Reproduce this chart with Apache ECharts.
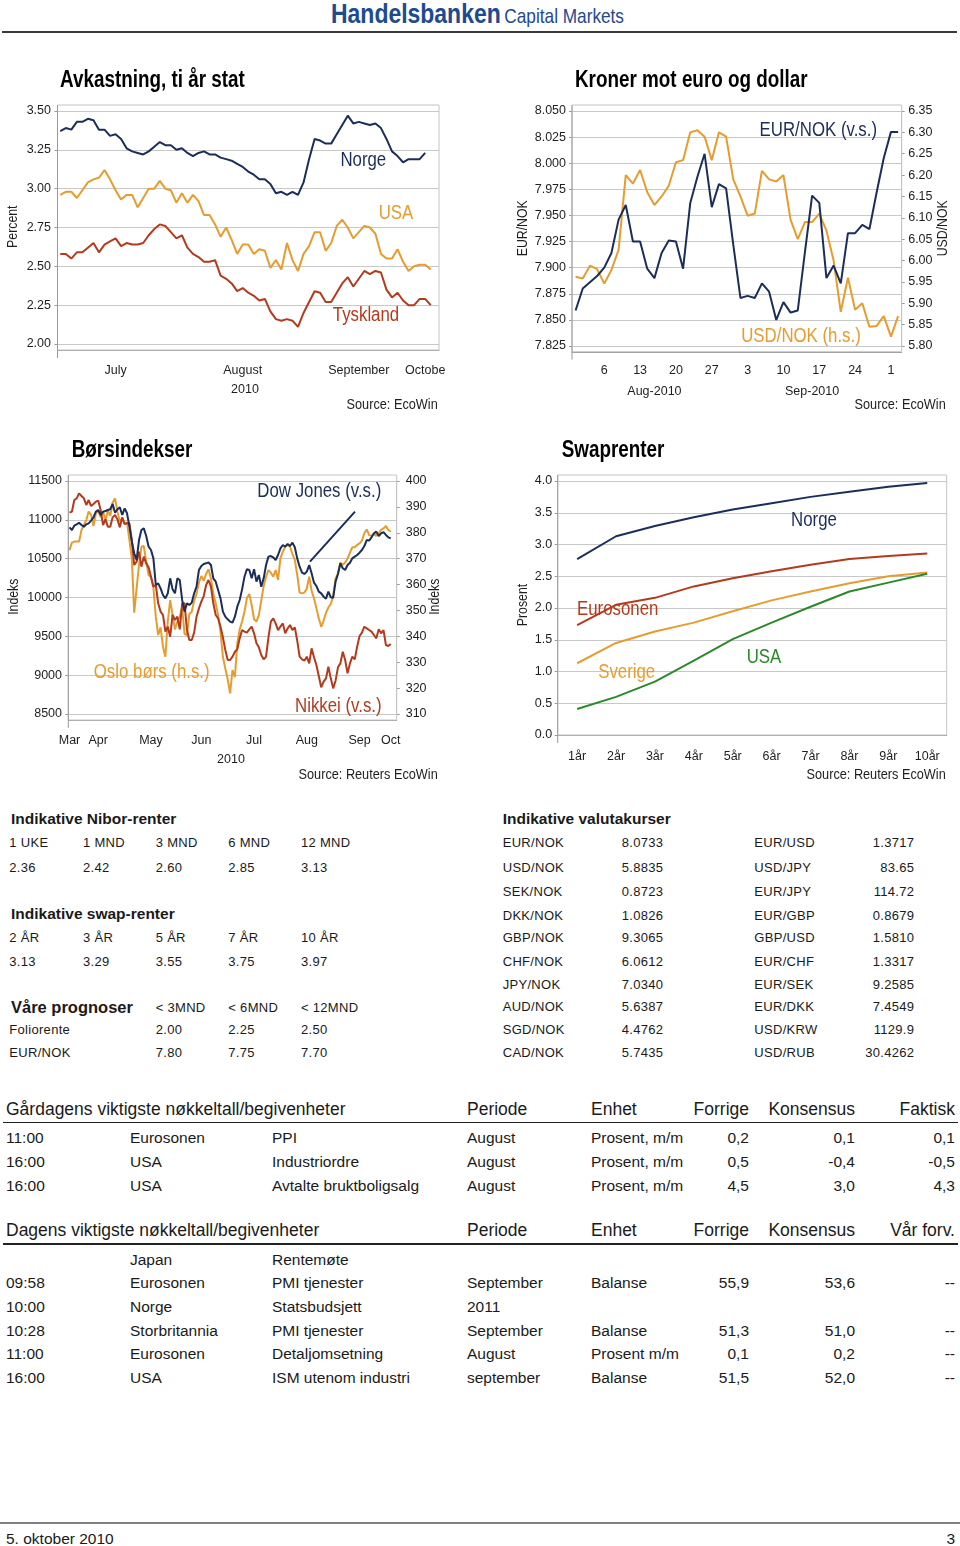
<!DOCTYPE html>
<html><head><meta charset="utf-8">
<script src="https://cdn.jsdelivr.net/npm/echarts@6/dist/echarts.min.js"></script>
<style>
html,body{margin:0;padding:0;background:#fff}
body{width:960px;height:1546px;position:relative;overflow:hidden;font-family:"Liberation Sans",Arial,sans-serif;color:#1a1a1a}
.t{position:absolute;white-space:nowrap;line-height:1.15;color:#1a1a1a}
.ch{position:absolute;width:450px;height:370px}
.hr{position:absolute;height:2px}
</style></head><body>
<div class="t" style="left:331px;top:-2px;line-height:28px;color:#1d4a91;transform:scaleX(0.82);transform-origin:0 0"><span style="font:bold 28px 'Liberation Sans',Arial,sans-serif">Handelsbanken</span> <span style="font:21px 'Liberation Sans',Arial,sans-serif">Capital Markets</span></div>
<div class="hr" style="left:2px;top:31px;width:955px;background:#3a3a3a"></div>
<div id="c1" class="ch" style="left:0;top:60px"></div>
<div id="c2" class="ch" style="left:510px;top:60px"></div>
<div id="c3" class="ch" style="left:0;top:430px"></div>
<div id="c4" class="ch" style="left:510px;top:430px"></div>
<div class="hr" style="left:0;top:1522px;width:960px;background:#808080"></div>
<script>
// ---------------- DATA ----------------
// Chart 1: Avkastning, ti år stat (business days 1 Jul - 5 Oct 2010)
const c1Norge = [3.37,3.39,3.38,3.43,3.43,3.45,3.44,3.38,3.38,3.34,3.35,3.32,3.26,3.24,3.23,3.22,3.24,3.27,3.30,3.28,3.28,3.25,3.26,3.23,3.21,3.23,3.24,3.22,3.22,3.20,3.19,3.18,3.16,3.14,3.11,3.09,3.06,3.06,3.03,2.97,2.98,2.96,2.98,2.96,3.04,3.19,3.32,3.31,3.29,3.29,3.35,3.41,3.47,3.42,3.43,3.42,3.41,3.42,3.39,3.32,3.24,3.21,3.17,3.19,3.19,3.19,3.23];
const c1USA = [2.96,2.98,2.98,2.94,2.99,3.04,3.06,3.07,3.12,3.06,2.99,2.93,2.96,2.96,2.88,2.94,3.00,3.00,3.05,3.00,2.99,2.91,2.97,2.91,2.96,2.92,2.83,2.83,2.77,2.69,2.75,2.67,2.58,2.64,2.64,2.58,2.61,2.60,2.49,2.54,2.48,2.65,2.54,2.47,2.58,2.63,2.72,2.72,2.60,2.65,2.76,2.80,2.75,2.68,2.72,2.76,2.75,2.71,2.58,2.55,2.55,2.61,2.53,2.47,2.50,2.51,2.51,2.48];
const c1Tyskland = [2.58,2.58,2.55,2.59,2.59,2.62,2.65,2.59,2.64,2.66,2.68,2.63,2.65,2.64,2.64,2.65,2.70,2.74,2.77,2.76,2.72,2.68,2.70,2.62,2.58,2.56,2.53,2.53,2.54,2.44,2.42,2.39,2.34,2.36,2.33,2.31,2.28,2.29,2.21,2.16,2.15,2.16,2.15,2.11,2.20,2.27,2.34,2.33,2.27,2.27,2.33,2.39,2.43,2.37,2.42,2.47,2.45,2.47,2.46,2.35,2.30,2.33,2.28,2.25,2.25,2.29,2.29,2.25];
const c1LabelIdx = [10,33,54,66];
const c1LabelTxt = ['July','August','September','Octobe'];

// Chart 2: Kroner mot euro og dollar (business days 2 Aug - 4 Oct 2010)
const c2EurNok = [7.859,7.880,7.886,7.892,7.900,7.914,7.946,7.960,7.925,7.925,7.899,7.890,7.914,7.926,7.925,7.899,7.962,7.987,8.009,7.958,7.980,7.976,7.922,7.871,7.873,7.871,7.885,7.877,7.850,7.867,7.857,7.859,7.915,7.969,7.962,7.890,7.902,7.885,7.933,7.933,7.941,7.937,7.972,8.005,8.030,8.030];
const c2UsdNok = [5.962,5.958,5.988,5.980,5.946,5.978,6.025,6.200,6.180,6.212,6.160,6.130,6.150,6.175,6.230,6.235,6.300,6.305,6.290,6.235,6.300,6.290,6.190,6.150,6.105,6.110,6.210,6.190,6.185,6.200,6.095,6.050,6.090,6.090,6.110,6.070,6.000,5.880,5.960,5.885,5.900,5.845,5.847,5.870,5.822,5.870];
const c2DayIdx = [4,9,14,19,24,29,34,39,44];
const c2DayTxt = ['6','13','20','27','3','10','17','24','1'];
const c2MonthIdx = [11,33];
const c2MonthTxt = ['Aug-2010','Sep-2010'];

// Chart 3: Børsindekser (business days 30 Mar - 6 Oct 2010)
const c3Dow = [10903,10869,10925,10942,10963,10933,10912,10942,10955,10989,11032,11105,11127,11062,11105,11114,11127,11136,11204,11092,11136,11161,11062,11148,11084,10912,10719,10569,10483,10740,10869,10890,10792,10654,10612,10504,10161,10182,10118,10032,9989,10054,10247,10105,10054,10247,10225,9968,9818,9925,9903,9934,10054,10139,10354,10406,10431,10440,10453,10418,10247,10204,10097,9989,9818,9753,9719,9689,9676,9753,9882,9968,10105,10268,10363,10354,10247,10363,10204,10290,10139,10247,10418,10526,10534,10517,10483,10547,10633,10676,10654,10689,10663,10706,10646,10504,10397,10320,10303,10333,10418,10311,10191,10148,10075,10054,10011,9985,10075,10002,9998,10204,10303,10440,10376,10354,10418,10448,10504,10526,10547,10577,10612,10663,10740,10732,10775,10826,10848,10792,10826,10843,10805,10775,10760];
const c3Nikkei = [11092,11105,11255,11277,11341,11307,11277,11191,11255,11178,11204,11234,11247,11127,10933,11006,10912,10912,11032,11062,11006,10903,11032,10946,10955,10955,10740,10418,10461,10590,10397,10526,10440,10388,10268,10139,10161,9925,9818,9775,9560,9624,9496,9775,9710,9753,9590,9925,9925,9581,9453,9453,9547,9753,9860,9946,10019,10161,10225,10139,9925,9775,9732,9624,9487,9324,9195,9195,9238,9302,9333,9474,9581,9560,9547,9590,9624,9539,9410,9358,9260,9204,9238,9487,9689,9732,9667,9581,9624,9667,9539,9603,9646,9581,9616,9444,9238,9204,9187,9238,9152,9345,9230,9131,8989,8843,8916,8959,9109,8959,8830,8929,9101,9152,9302,9195,9024,9152,9238,9204,9367,9504,9547,9624,9603,9581,9560,9517,9474,9590,9539,9581,9388,9375,9401];
const c3Oslo = [373.3,376.2,376.6,376.6,376.6,381.1,383.0,384.9,388.2,386.9,382.6,387.5,388.5,386.0,388.2,384.7,388.5,386.5,391.6,393.3,388.2,384.3,385.6,383.4,383.9,377.2,370.1,349.1,358.5,367.6,374.6,374.9,368.8,363.7,362.8,358.9,347.6,340.5,343.5,336.0,332.1,345.7,354.0,348.2,342.7,345.7,347.6,351.2,340.9,340.5,348.6,349.5,353.8,356.4,360.7,363.3,361.5,364.1,365.9,362.4,356.6,352.7,348.2,341.8,332.1,327.6,323.4,318.0,327.0,324.2,337.3,342.7,345.7,349.5,354.7,356.4,352.1,346.6,345.7,348.2,353.8,359.4,363.0,365.6,364.6,363.0,365.6,361.8,370.1,372.7,374.6,375.3,374.6,371.8,369.5,363.7,356.9,356.6,356.9,358.5,363.0,357.6,354.7,350.8,347.0,343.7,346.0,349.1,351.2,352.5,355.6,362.4,364.3,368.5,367.6,368.5,370.1,372.3,374.4,374.4,375.3,375.9,377.0,379.8,381.3,379.1,378.8,379.5,378.8,379.8,381.1,381.7,382.6,381.1,380.4];
const c3LabelIdx = [0,12,34,55,77,99,121,134];
const c3LabelTxt = ['Mar','Apr','May','Jun','Jul','Aug','Sep','Oct'];

// Chart 4: Swaprenter
const c4Cats = ['1år','2år','3år','4år','5år','6år','7år','8år','9år','10år'];
const c4Norge = [2.77,3.13,3.29,3.43,3.55,3.65,3.75,3.83,3.91,3.97];
const c4Euro = [1.73,2.05,2.16,2.34,2.47,2.58,2.68,2.77,2.82,2.86];
const c4Sverige = [1.13,1.45,1.63,1.77,1.95,2.12,2.26,2.39,2.50,2.56];
const c4USA = [0.41,0.60,0.84,1.17,1.51,1.77,2.02,2.26,2.40,2.54];

// Tables
const niborHeads = ['1 UKE','1 MND','3 MND','6 MND','12 MND'];
const niborValues = ['2.36','2.42','2.60','2.85','3.13'];
const swapHeads = ['2 ÅR','3 ÅR','5 ÅR','7 ÅR','10 ÅR'];
const swapValues = ['3.13','3.29','3.55','3.75','3.97'];
const prognoseHeads = ['< 3MND','< 6MND','< 12MND'];
const prognoseRows = [['Foliorente','2.00','2.25','2.50'],['EUR/NOK','7.80','7.75','7.70']];
const valutaLeft = [['EUR/NOK','8.0733'],['USD/NOK','5.8835'],['SEK/NOK','0.8723'],['DKK/NOK','1.0826'],['GBP/NOK','9.3065'],['CHF/NOK','6.0612'],['JPY/NOK','7.0340'],['AUD/NOK','5.6387'],['SGD/NOK','4.4762'],['CAD/NOK','5.7435']];
const valutaRight = [['EUR/USD','1.3717'],['USD/JPY','83.65'],['EUR/JPY','114.72'],['EUR/GBP','0.8679'],['GBP/USD','1.5810'],['EUR/CHF','1.3317'],['EUR/SEK','9.2585'],['EUR/DKK','7.4549'],['USD/KRW','1129.9'],['USD/RUB','30.4262']];
const evHeadY = ['Gårdagens viktigste nøkkeltall/begivenheter','Periode','Enhet','Forrige','Konsensus','Faktisk'];
const evRowsY = [
 ['11:00','Eurosonen','PPI','August','Prosent, m/m','0,2','0,1','0,1'],
 ['16:00','USA','Industriordre','August','Prosent, m/m','0,5','-0,4','-0,5'],
 ['16:00','USA','Avtalte bruktboligsalg','August','Prosent, m/m','4,5','3,0','4,3']];
const evHeadT = ['Dagens viktigste nøkkeltall/begivenheter','Periode','Enhet','Forrige','Konsensus','Vår forv.'];
const evRowsT = [
 ['','Japan','Rentemøte','','','','',''],
 ['09:58','Eurosonen','PMI tjenester','September','Balanse','55,9','53,6','--'],
 ['10:00','Norge','Statsbudsjett','2011','','','',''],
 ['10:28','Storbritannia','PMI tjenester','September','Balanse','51,3','51,0','--'],
 ['11:00','Eurosonen','Detaljomsetning','August','Prosent m/m','0,1','0,2','--'],
 ['16:00','USA','ISM utenom industri','september','Balanse','51,5','52,0','--']];

// ---------------- HELPERS ----------------
function bizDays(start, end){
  const out=[]; const d=new Date(start+'T00:00:00Z'); const e=new Date(end+'T00:00:00Z');
  while(d<=e){const w=d.getUTCDay(); if(w!==0&&w!==6) out.push(d.toISOString().slice(0,10)); d.setUTCDate(d.getUTCDate()+1);}
  return out;
}
function monthStart(dates,i){return i===0 || dates[i].slice(5,7)!==dates[i-1].slice(5,7);}
const c1Dates = bizDays('2010-07-01','2010-10-05');
const c2Dates = bizDays('2010-08-02','2010-10-04');
const c3Dates = bizDays('2010-03-30','2010-10-06');

const FN = "'Liberation Sans',Arial,sans-serif";
const NAVY='#1b2d5a', ORANGE='#e69c2e', RED='#b43a1c', GREEN='#2a8a2a';
const GRID='#c8c8c8', AXIS='#9a9a9a', FRAME='#c4c4c4', TXT='#1e1e1e';
const NARROW = 0.82;

function gtext(x,y,text,font,fill,align,rot,sx){
  align = align||'left';
  return {type:'text', x:x, y:y, rotation:rot||0, scaleX:(sx===undefined?NARROW:sx), z:100,
    style:{text:text, font:font, fill:fill, align:align, verticalAlign:'middle', textAlign:align, textVerticalAlign:'middle'}};
}
function frame(x,y,w,h){
  return [
    {type:'rect', z:1, shape:{x:x,y:y,width:w,height:h}, style:{fill:'none', stroke:FRAME, lineWidth:1}},
    {type:'line', z:2, shape:{x1:x,y1:y,x2:x,y2:y+h+8}, style:{stroke:AXIS, lineWidth:1}}
  ];
}
const lab14 = {fontFamily:FN, fontSize:12.5, color:TXT};
const yTick = {show:true, length:3, lineStyle:{color:AXIS}};
function line(data, color, yi){
  return {type:'line', data:data, yAxisIndex:yi||0, showSymbol:false, symbol:'none', z:5,
    lineStyle:{color:color, width:2}, itemStyle:{color:color}, emphasis:{disabled:true}};
}

// ---------------- CHART 1 ----------------
echarts.init(document.getElementById('c1')).setOption({
  animation:false,
  grid:{left:57.5, top:51, width:381.5, height:233},
  xAxis:{type:'category', data:c1Dates, boundaryGap:true, offset:6,
    axisLine:{lineStyle:{color:AXIS}},
    axisTick:{interval:(i)=>monthStart(c1Dates,i), length:6, lineStyle:{color:AXIS}},
    axisLabel:Object.assign({interval:(i)=>c1LabelIdx.includes(i), formatter:(v,i)=>c1LabelTxt[c1LabelIdx.indexOf(i)]||'', margin:14.4}, lab14)},
  yAxis:{type:'value', min:2, max:3.5, interval:0.25,
    axisLine:{show:false}, axisTick:yTick,
    axisLabel:Object.assign({formatter:(v)=>v.toFixed(2), margin:6.5}, lab14),
    splitLine:{lineStyle:{color:GRID}}},
  series:[line(c1Norge,NAVY), line(c1USA,ORANGE), line(c1Tyskland,RED)],
  graphic:[].concat(frame(57.5,45,381.5,245),[
    gtext(60,20.7,'Avkastning, ti år stat','bold 23px '+FN,'#000'),
    gtext(13.3,166.7,'Percent','15px '+FN,TXT,'center',Math.PI/2),
    gtext(363.3,100,'Norge','20.5px '+FN,NAVY,'center'),
    gtext(396,153.3,'USA','20.5px '+FN,ORANGE,'center'),
    gtext(366,255,'Tyskland','20.5px '+FN,RED,'center'),
    gtext(245,330,'2010','12.5px '+FN,TXT,'center',0,1),
    gtext(437.7,344.3,'Source: EcoWin','15.5px '+FN,TXT,'right')
  ])
});

// ---------------- CHART 2 ----------------
echarts.init(document.getElementById('c2')).setOption({
  animation:false,
  grid:{left:62, top:51, width:329.7, height:235},
  xAxis:[
    {type:'category', data:c2Dates, boundaryGap:true, offset:6, position:'bottom',
     axisLine:{lineStyle:{color:AXIS}},
     axisTick:{interval:(i)=>c2DayIdx.includes(i), alignWithLabel:true, length:5, lineStyle:{color:AXIS}},
     axisLabel:Object.assign({interval:(i)=>c2DayIdx.includes(i), formatter:(v,i)=>c2DayTxt[c2DayIdx.indexOf(i)]||'', margin:11.7}, lab14)},
    {type:'category', data:c2Dates, boundaryGap:true, offset:6, position:'bottom',
     axisLine:{show:false},
     axisTick:{interval:(i)=>monthStart(c2Dates,i), length:9, lineStyle:{color:AXIS}},
     axisLabel:Object.assign({interval:(i)=>c2MonthIdx.includes(i), formatter:(v,i)=>c2MonthTxt[c2MonthIdx.indexOf(i)]||'', margin:33.4}, lab14)}
  ],
  yAxis:[
    {type:'value', min:7.825, max:8.05, interval:0.025, position:'left',
     axisLine:{show:false}, axisTick:yTick,
     axisLabel:Object.assign({formatter:(v)=>v.toFixed(3), margin:6}, lab14),
     splitLine:{lineStyle:{color:GRID}}},
    {type:'value', min:5.8, max:6.35, interval:0.05, position:'right',
     axisLine:{show:true, lineStyle:{color:FRAME}}, axisTick:yTick,
     axisLabel:Object.assign({formatter:(v)=>v.toFixed(2), margin:6.5}, lab14),
     splitLine:{show:false}}
  ],
  series:[line(c2UsdNok,ORANGE,1), line(c2EurNok,NAVY,0)],
  graphic:[].concat(frame(62,45,329.7,246.7),[
    gtext(65,20.7,'Kroner mot euro og dollar','bold 23px '+FN,'#000'),
    gtext(13.3,168.3,'EUR/NOK','15px '+FN,TXT,'center',Math.PI/2),
    gtext(432.7,168.3,'USD/NOK','15px '+FN,TXT,'center',Math.PI/2),
    gtext(308.3,70,'EUR/NOK (v.s.)','20.5px '+FN,NAVY,'center'),
    gtext(291,276,'USD/NOK (h.s.)','20.5px '+FN,ORANGE,'center'),
    gtext(435.7,345,'Source: EcoWin','15.5px '+FN,TXT,'right')
  ])
});

// ---------------- CHART 3 ----------------
echarts.init(document.getElementById('c3')).setOption({
  animation:false,
  grid:{left:68.3, top:51, width:328.4, height:233},
  xAxis:{type:'category', data:c3Dates, boundaryGap:true, offset:6,
    axisLine:{lineStyle:{color:AXIS}},
    axisTick:{interval:(i)=>monthStart(c3Dates,i), length:6, lineStyle:{color:AXIS}},
    axisLabel:Object.assign({interval:(i)=>c3LabelIdx.includes(i), formatter:(v,i)=>c3LabelTxt[c3LabelIdx.indexOf(i)]||'', margin:14.4}, lab14)},
  yAxis:[
    {type:'value', min:8500, max:11500, interval:500, position:'left',
     axisLine:{show:false}, axisTick:yTick,
     axisLabel:Object.assign({formatter:(v)=>String(v), margin:6.3}, lab14),
     splitLine:{lineStyle:{color:GRID}}},
    {type:'value', min:310, max:400, interval:10, position:'right',
     axisLine:{show:true, lineStyle:{color:FRAME}}, axisTick:yTick,
     axisLabel:Object.assign({formatter:(v)=>String(v), margin:9}, lab14),
     splitLine:{show:false}}
  ],
  series:[line(c3Oslo,ORANGE,1), line(c3Nikkei,RED,0), line(c3Dow,NAVY,0)],
  graphic:[].concat(frame(68.3,45,328.4,245),[
    gtext(71.7,20.7,'Børsindekser','bold 23px '+FN,'#000'),
    gtext(14,166.7,'Indeks','15px '+FN,TXT,'center',Math.PI/2),
    gtext(435,166.7,'Indeks','15px '+FN,TXT,'center',Math.PI/2),
    gtext(319.3,61,'Dow Jones (v.s.)','20.5px '+FN,NAVY,'center'),
    gtext(151.7,242.7,'Oslo børs (h.s.)','20.5px '+FN,ORANGE,'center'),
    gtext(338.3,276.7,'Nikkei (v.s.)','20.5px '+FN,RED,'center'),
    {type:'line', z:100, shape:{x1:355,y1:81.7,x2:310,y2:131.7}, style:{stroke:NAVY, lineWidth:2}},
    gtext(231,330,'2010','12.5px '+FN,TXT,'center',0,1),
    gtext(437.7,345,'Source: Reuters EcoWin','15.5px '+FN,TXT,'right')
  ])
});

// ---------------- CHART 4 ----------------
echarts.init(document.getElementById('c4')).setOption({
  animation:false,
  grid:{left:47.7, top:51, width:389, height:254},
  xAxis:{type:'category', data:c4Cats, boundaryGap:true,
    axisLine:{lineStyle:{color:AXIS}},
    axisTick:{alignWithLabel:true, length:5, lineStyle:{color:AXIS}},
    axisLabel:Object.assign({margin:14.7}, lab14)},
  yAxis:{type:'value', min:0, max:4, interval:0.5,
    axisLine:{show:false}, axisTick:yTick,
    axisLabel:Object.assign({formatter:(v)=>v.toFixed(1), margin:5.5}, lab14),
    splitLine:{lineStyle:{color:GRID}}},
  series:[line(c4Norge,NAVY), line(c4Euro,RED), line(c4Sverige,ORANGE), line(c4USA,GREEN)],
  graphic:[].concat(frame(47.7,45,389,260),[
    gtext(51.7,20.7,'Swaprenter','bold 23px '+FN,'#000'),
    gtext(12.7,175,'Prosent','15px '+FN,TXT,'center',Math.PI/2),
    gtext(304,90,'Norge','20.5px '+FN,NAVY,'center'),
    gtext(107.7,179,'Eurosonen','20.5px '+FN,RED,'center'),
    gtext(116.7,242.7,'Sverige','20.5px '+FN,ORANGE,'center'),
    gtext(254,227.7,'USA','20.5px '+FN,GREEN,'center'),
    gtext(435.7,345,'Source: Reuters EcoWin','15.5px '+FN,TXT,'right')
  ])
});

// ---------------- TABLES ----------------
const SANS = '"Liberation Sans",Arial,sans-serif';
function T(x,y,s,font,right,ls){
  const d=document.createElement('div'); d.className='t'; d.textContent=s;
  d.style.left=x+'px'; d.style.top=y+'px'; d.style.font=font;
  if(ls) d.style.letterSpacing=ls;
  d.style.transform = right ? 'translate(-100%,-50%)' : 'translate(0,-50%)';
  document.body.appendChild(d);
}
const SM = '13px '+SANS, HB = 'bold 15.5px '+SANS, LS='0.3px';
const nibX = [9.3,83,155.7,228.3,301];
T(11,819,'Indikative Nibor-renter',HB);
niborHeads.forEach((s,i)=>T(nibX[i],842.3,s,SM,false,LS));
niborValues.forEach((s,i)=>T(nibX[i],866.7,s,SM,false,LS));
T(11,914,'Indikative swap-renter',HB);
swapHeads.forEach((s,i)=>T(nibX[i],937,s,SM,false,LS));
swapValues.forEach((s,i)=>T(nibX[i],961,s,SM,false,LS));
T(11,1006.5,'Våre prognoser','bold 16.5px '+SANS);
prognoseHeads.forEach((s,i)=>T(nibX[i+2],1006.5,s,SM,false,LS));
const progY=[1029.3,1052];
prognoseRows.forEach((r,j)=>{ T(nibX[0],progY[j],r[0],SM,false,LS); r.slice(1).forEach((s,i)=>T(nibX[i+2],progY[j],s,SM,false,LS)); });

T(502.7,819,'Indikative valutakurser',HB);
const valY=[842.3,866.7,890.7,914.7,937,960.7,983.7,1006.3,1029.3,1052];
valutaLeft.forEach((r,j)=>{T(502.7,valY[j],r[0],SM,false,LS); T(621.7,valY[j],r[1],SM,false,LS);});
valutaRight.forEach((r,j)=>{T(754.3,valY[j],r[0],SM,false,LS); T(914.3,valY[j],r[1],SM,true,LS);});

const EH='17.5px '+SANS, ER='15.5px '+SANS;
const colX=[6,130,272,467,591,749,855,955];
function evTable(head, rows, headY, lineY, rowY){
  T(6,headY,head[0],EH); T(467,headY,head[1],EH); T(591,headY,head[2],EH);
  T(749,headY,head[3],EH,true); T(855,headY,head[4],EH,true); T(955,headY,head[5],EH,true);
  const l=document.createElement('div'); l.className='hr';
  l.style.cssText='position:absolute;left:3px;width:955px;height:1.5px;background:#222;top:'+(lineY-0.75)+'px';
  document.body.appendChild(l);
  rows.forEach((r,j)=>r.forEach((s,i)=>{ if(s!=='') T(colX[i],rowY[j],s,ER,i>=5); }));
}
evTable(evHeadY, evRowsY, 1109, 1122.7, [1138.3,1162,1185.7]);
evTable(evHeadT, evRowsT, 1230, 1244, [1259.7,1283.3,1307,1330.7,1354.3,1377.7]);

T(6,1539,'5. oktober 2010','15.5px '+SANS);
T(955,1539,'3','15.5px '+SANS,true);
</script>
</body></html>
